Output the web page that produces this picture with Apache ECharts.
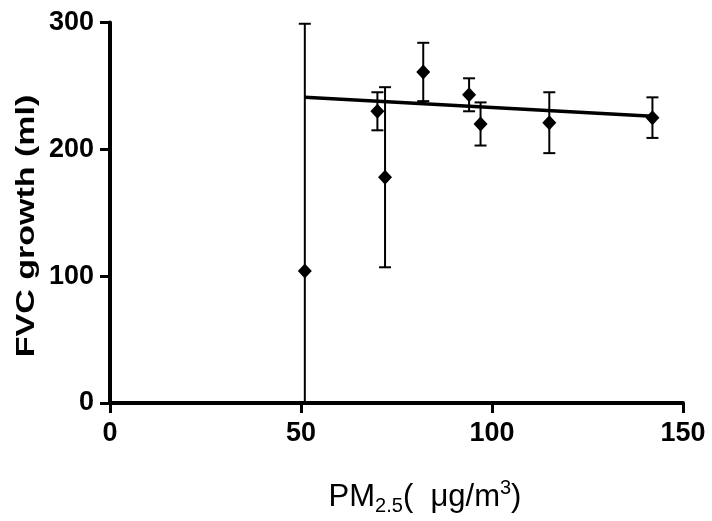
<!DOCTYPE html>
<html>
<head>
    <meta charset='utf-8'>
    <script src="https://cdn.jsdelivr.net/npm/echarts@6/dist/echarts.min.js"></script>
</head>
<body>
<style>
    html, body, #main {
        width: 100%;
        height: 100%;
        margin: 0;
        padding: 0;
        background: #fff;
    }
</style>
<div id="main"></div>
<script>
    // PM2.5 exposure vs FVC growth, mean +/- error
    var pmValues = [51, 70, 72, 82, 94, 97, 115, 142];
    var fvcMeans = [104, 230, 178, 261, 243, 220, 221, 225];
    var fvcErrors = [195, 15, 71, 23, 13, 17, 24, 16];
    // linear fit end points
    var fitX = [51, 142];
    var fitY = [241, 226];
    var xTicks = [0, 50, 100, 150];
    var yTicks = [0, 100, 200, 300];

    var points = pmValues.map(function (x, i) {
        return [x, fvcMeans[i]];
    });
    var bars = pmValues.map(function (x, i) {
        return [x, fvcMeans[i] - fvcErrors[i], fvcMeans[i] + fvcErrors[i]];
    });
    var fitLine = fitX.map(function (x, i) {
        return [x, fitY[i]];
    });

    var chart = echarts.init(document.getElementById('main'));
    var font = '"Liberation Sans", Arial, sans-serif';

    chart.setOption({
        animation: false,
        grid: {left: 110, right: 29, top: 22.5, bottom: 118},
        xAxis: {
            type: 'value',
            min: xTicks[0],
            max: xTicks[xTicks.length - 1],
            interval: 50,
            axisLine: {lineStyle: {color: '#000', width: 4}},
            axisTick: {length: 10, lineStyle: {color: '#000', width: 3}},
            axisLabel: {
                margin: 17, color: '#000', fontSize: 27, fontWeight: 'bold', fontFamily: font
            },
            splitLine: {show: false}
        },
        yAxis: {
            type: 'value',
            min: yTicks[0],
            max: yTicks[yTicks.length - 1],
            interval: 100,
            axisLine: {lineStyle: {color: '#000', width: 4}},
            axisTick: {length: 10, lineStyle: {color: '#000', width: 3}},
            axisLabel: {
                margin: 16, color: '#000', fontSize: 27, fontWeight: 'bold', fontFamily: font
            },
            splitLine: {show: false}
        },
        graphic: [{
            type: 'text',
            x: 27,
            y: 226,
            rotation: Math.PI / 2,
            scaleX: 1.36,
            style: {
                text: 'FVC growth (ml)',
                font: 'bold 25px ' + font,
                fill: '#000',
                align: 'center',
                verticalAlign: 'middle'
            }
        }, {
            type: 'text',
            x: 425,
            y: 497,
            style: {
                text: '{a|PM}{sub|2.5}{a|(  \u03bcg/m}{sup|3}{a|)}',
                fill: '#000',
                align: 'center',
                verticalAlign: 'middle',
                rich: {
                    a: {fontSize: 31, fontFamily: font, lineHeight: 38},
                    sub: {fontSize: 20, fontFamily: font, lineHeight: 18, verticalAlign: 'bottom'},
                    sup: {fontSize: 20, fontFamily: font, lineHeight: 20, verticalAlign: 'top'}
                }
            }
        }],
        series: [{
            name: 'error',
            type: 'custom',
            data: bars,
            z: 3,
            renderItem: function (params, api) {
                var x = api.value(0);
                var lo = api.value(1);
                var hi = api.value(2);
                var top = api.coord([x, hi]);
                var bottom = api.coord([x, Math.max(lo, 0)]);
                var half = 6;
                var style = {stroke: '#000', lineWidth: 2};
                var children = [{
                    type: 'line',
                    shape: {x1: top[0], y1: top[1], x2: bottom[0], y2: bottom[1]},
                    style: style
                }, {
                    type: 'line',
                    shape: {x1: top[0] - half, y1: top[1], x2: top[0] + half, y2: top[1]},
                    style: style
                }];
                if (lo > 0) {
                    children.push({
                        type: 'line',
                        shape: {x1: bottom[0] - half, y1: bottom[1], x2: bottom[0] + half, y2: bottom[1]},
                        style: style
                    });
                }
                return {type: 'group', children: children};
            }
        }, {
            name: 'fit',
            type: 'line',
            data: fitLine,
            symbol: 'none',
            z: 4,
            lineStyle: {color: '#000', width: 3.5}
        }, {
            name: 'mean',
            type: 'scatter',
            data: points,
            symbol: 'diamond',
            symbolSize: [14, 15],
            z: 5,
            itemStyle: {color: '#000', opacity: 1}
        }]
    });
</script>
</body>
</html>
